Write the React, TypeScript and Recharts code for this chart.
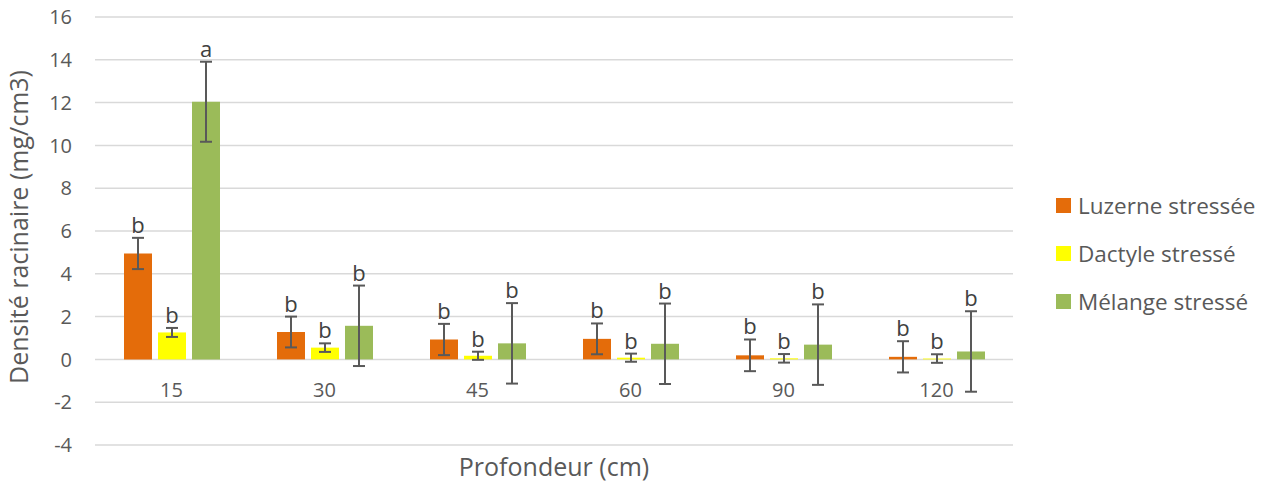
import React from 'react';
import { BarChart, Bar, XAxis, YAxis, CartesianGrid, ErrorBar, LabelList } from 'recharts';

const depths = ['15', '30', '45', '60', '90', '120'];
const luzerne = [4.95, 1.28, 0.93, 0.96, 0.19, 0.12];
const luzerneErr = [0.73, 0.72, 0.73, 0.72, 0.74, 0.73];
const dactyle = [1.26, 0.55, 0.17, 0.08, 0.05, 0.04];
const dactyleErr = [0.21, 0.2, 0.19, 0.19, 0.2, 0.2];
const melange = [12.04, 1.57, 0.75, 0.73, 0.69, 0.37];
const melangeErr = [1.87, 1.88, 1.88, 1.88, 1.88, 1.88];
const luzerneLetters = ['b', 'b', 'b', 'b', 'b', 'b'];
const dactyleLetters = ['b', 'b', 'b', 'b', 'b', 'b'];
const melangeLetters = ['a', 'b', 'b', 'b', 'b', 'b'];
const yTicks = [-4, -2, 0, 2, 4, 6, 8, 10, 12, 14, 16];

const data = depths.map((d, i) => ({
    depth: d,
    luzerne: luzerne[i],
    luzerneErr: luzerneErr[i],
    dactyle: dactyle[i],
    dactyleErr: dactyleErr[i],
    melange: melange[i],
    melangeErr: melangeErr[i],
}));

const FONT = '"Open Sans", "Noto Sans", sans-serif';
const W = 1273;
const H = 484;
const M = { top: 17, right: 260, bottom: 9, left: 0 };
const PPU = (H - M.top - 39) / 20; // pixels per unit on the y axis

const series = [
    { key: 'luzerne', name: 'Luzerne stressée', color: '#E46C0A', err: luzerneErr, letters: luzerneLetters },
    { key: 'dactyle', name: 'Dactyle stressé', color: '#FFFF00', err: dactyleErr, letters: dactyleLetters },
    { key: 'melange', name: 'Mélange stressé', color: '#9BBB59', err: melangeErr, letters: melangeLetters },
];

const makeLetter = (err: number[], letters: string[]) => (props: any) => {
    const { x, y, width, index } = props;
    const top = Number(y) - err[index] * PPU - 5;
    return (
        <text x={Number(x) + Number(width) / 2} y={top} textAnchor="middle" fontSize={22} fill="#404040" fontFamily={FONT}>
            {letters[index]}
        </text>
    );
};

const DepthTick = (props: any) => {
    const { x, y, payload } = props;
    return (
        <text x={x} y={y - 56} textAnchor="middle" fontSize={20} fill="#595959" fontFamily={FONT}>
            {payload.value}
        </text>
    );
};

const App: React.FC = () => {
    return (
        <div style={{ position: 'absolute', left: 0, top: 0, width: W, height: H, background: '#fff', fontFamily: FONT }}>
            <BarChart width={W} height={H} data={data} margin={M} barSize={28} barGap={6}>
                <CartesianGrid vertical={false} stroke="#d9d9d9" strokeWidth={1.5} />
                <XAxis dataKey="depth" axisLine={false} tickLine={false} tick={<DepthTick />} interval={0} />
                <YAxis
                    domain={[-4, 16]}
                    ticks={yTicks}
                    width={95}
                    axisLine={false}
                    tickLine={false}
                    tickSize={0}
                    tickMargin={23}
                    tick={{ fill: '#595959', fontSize: 20, fontFamily: FONT }}
                    label={{
                        value: 'Densité racinaire (mg/cm3)',
                        angle: -90,
                        position: 'insideLeft',
                        dx: 14,
                        dy: -4,
                        style: { textAnchor: 'middle', fill: '#595959', fontSize: 25, fontFamily: FONT },
                    }}
                />
                {series.map(s => (
                    <Bar key={s.key} dataKey={s.key} name={s.name} fill={s.color} isAnimationActive={false}>
                        <ErrorBar dataKey={`${s.key}Err`} width={6} stroke="#595959" strokeWidth={2} />
                        <LabelList dataKey={s.key} content={makeLetter(s.err, s.letters)} />
                    </Bar>
                ))}
                <text x={554} y={476} textAnchor="middle" fontSize={25} fill="#595959" fontFamily={FONT}>
                    Profondeur (cm)
                </text>
            </BarChart>
            <div style={{ position: 'absolute', left: 1056, top: 181 }}>
                {series.map(s => (
                    <div key={s.key} style={{ display: 'flex', alignItems: 'center', height: 48 }}>
                        <span style={{ width: 15, height: 15, background: s.color, display: 'inline-block', marginRight: 7 }} />
                        <span style={{ fontSize: 22.5, color: '#595959', fontFamily: FONT }}>{s.name}</span>
                    </div>
                ))}
            </div>
        </div>
    );
};

export default App;
